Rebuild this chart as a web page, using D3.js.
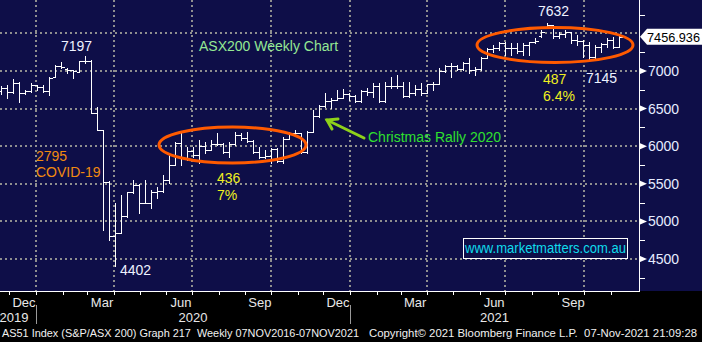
<!DOCTYPE html>
<html>
<head>
<meta charset="utf-8">
<script src="https://cdn.jsdelivr.net/npm/d3@7"></script>
<style>
  body { margin: 0; background: #000; }
  svg { display: block; }
  text { font-family: "Liberation Sans", Arial, sans-serif; }
  .footer { white-space: pre; }
</style>
</head>
<body>
<div id="chart"></div>
<script>
// weekly AS51 bars, week ending Friday, first week 15 Nov 2019
const firstWeek = new Date(2019, 10, 15);

const open = [6740,6770,6715,6846,6708,6740,6816,6790,6733,6925,7065,7030,7010,6990,7130,7139,6445,6217,5530,4800,
  4842,5070,5387,5487,5242,5245,5391,5405,5550,5755,6037,5847,5942,5880,6000,5950,6034,6030,5928,6027,
  6150,6111,6073,5925,5859,5873,5964,5800,6101,6176,6170,5927,6190,6405,6539,6601,6620,6642,6700,6665,
  6600,6740,6715,6800,6607,6806,6798,6794,6673,6710,6767,6708,6824,6828,6995,7063,7061,7025,7106,7014,
  7030,7179,7295,7312,7369,7308,7308,7272,7347,7390,7460,7567,7612,7460,7488,7522,7406,7403,7342,7180,
  7320,7362,7415,7323];
const high = [6800,6814,6889,6858,6750,6845,6820,6814,6924,7080,7124,7040,7013,7137,7197,7150,6517,6220,5540,5240,
  5351,5395,5550,5500,5550,5417,5462,5617,5900,6060,6193,5993,5990,6082,6060,6082,6171,6038,6060,6193,
  6171,6193,6082,5993,5949,5971,5971,6126,6193,6215,6180,6200,6481,6548,6703,6636,6747,6756,6703,6681,
  6747,6770,6836,6836,6858,6924,6947,6858,6860,6814,6836,6830,6858,7035,7080,7102,7080,7124,7168,7057,
  7190,7301,7346,7390,7380,7368,7368,7368,7390,7434,7545,7632,7612,7523,7545,7523,7479,7412,7390,7346,
  7368,7434,7450,7460];
const low = [6700,6636,6703,6592,6700,6725,6750,6720,6681,6920,7035,6969,6902,6982,7110,6440,6215,4885,4752,4402,
  4841,5060,5373,5107,5240,5173,5306,5395,5506,5750,5750,5816,5860,5772,5905,5949,6016,5905,5860,6020,
  6082,6060,5905,5838,5838,5772,5794,5772,6100,6149,5905,5905,6190,6393,6525,6503,6614,6636,6614,6592,
  6592,6681,6659,6592,6590,6769,6769,6659,6660,6681,6681,6703,6747,6828,6991,6924,7013,7013,6969,6947,
  7013,7168,7257,7279,7213,7213,7235,7213,7213,7368,7456,7567,7434,7434,7456,7368,7346,7190,7155,7145,
  7257,7323,7310,7315];
const close = [6770,6715,6846,6708,6740,6816,6790,6733,6905,7065,7050,7017,7000,7130,7139,6445,6217,5530,4800,4842,
  5070,5387,5487,5242,5245,5391,5405,5550,5755,6037,5847,5942,5880,6000,5950,6034,6030,5928,6027,6150,
  6111,6073,5925,5859,5873,5964,5800,6101,6176,6170,5927,6190,6405,6539,6601,6620,6642,6700,6665,6600,
  6740,6715,6800,6607,6806,6798,6794,6673,6710,6767,6708,6824,6828,6995,7063,7061,7025,7106,7014,7030,
  7179,7295,7312,7369,7308,7308,7272,7347,7390,7400,7522,7612,7460,7488,7522,7406,7403,7342,7180,7320,
  7362,7415,7323,7457];

const lastPrice = "7456.936";
const priceTicks = [4500, 5000, 5500, 6000, 6500, 7000, 7500];
const minorTicks = [4250, 4750, 5250, 5750, 6250, 6750, 7250, 7750];
const monthLabels = [
  {date: new Date(2019, 11, 1), label: "Dec"}, {date: new Date(2020, 2, 1), label: "Mar"},
  {date: new Date(2020, 5, 1), label: "Jun"}, {date: new Date(2020, 8, 1), label: "Sep"},
  {date: new Date(2020, 11, 1), label: "Dec"}, {date: new Date(2021, 2, 1), label: "Mar"},
  {date: new Date(2021, 5, 1), label: "Jun"}, {date: new Date(2021, 8, 1), label: "Sep"}
];
const yearLabels = ["2019", "2020", "2021"];
const footerLeft = "AS51 Index (S&P/ASX 200) Graph 217  Weekly 07NOV2016-07NOV2021";
const footerRight = "Copyright\u00a9 2021 Bloomberg Finance L.P.  07-Nov-2021 21:09:28";

const W = 702, H = 342;
const plotRight = 639, plotBottom = 291;
const bg = "#0e0e48";

const svg = d3.select("#chart").append("svg")
  .attr("width", W).attr("height", H);

svg.append("rect").attr("width", W).attr("height", H).attr("fill", "#000");
svg.append("rect").attr("width", W).attr("height", plotBottom).attr("fill", bg);

const x = d3.scaleTime()
  .domain([new Date(2020, 0, 1), new Date(2021, 0, 1)])
  .range([36, 350]);
const y = d3.scaleLinear()
  .domain([4500, 7500])
  .range([259, 33.4]);

const weeks = open.map((o, i) => ({
  date: d3.timeDay.offset(d3.timeWeek.offset(firstWeek, i), 6),
  o: o, h: high[i], l: low[i], c: close[i]
}));

// grid
const grid = svg.append("g").attr("stroke", "#8f8f8f").attr("stroke-width", 2)
  .attr("stroke-dasharray", "2,3");
const quarters = d3.timeMonth.every(3).range(new Date(2019, 11, 1), new Date(2021, 11, 1));
grid.selectAll(".vg").data(quarters).enter().append("line")
  .attr("x1", d => Math.round(x(d))).attr("x2", d => Math.round(x(d)))
  .attr("y1", 0).attr("y2", plotBottom);
grid.selectAll(".hg").data(priceTicks).enter().append("line")
  .attr("x1", 0).attr("x2", plotRight)
  .attr("y1", d => Math.round(y(d))).attr("y2", d => Math.round(y(d)));

// bars
const bars = svg.append("g").attr("stroke", "#fff").attr("stroke-width", 1)
  .attr("shape-rendering", "crispEdges");
const bx = d => Math.round(x(d.date)) + 0.5;
bars.selectAll(".hl").data(weeks).enter().append("line")
  .attr("x1", bx).attr("x2", bx)
  .attr("y1", d => Math.round(y(d.h))).attr("y2", d => Math.round(y(d.l)) + 1);
bars.selectAll(".op").data(weeks).enter().append("line")
  .attr("x1", d => bx(d) - 3).attr("x2", bx)
  .attr("y1", d => Math.round(y(d.o)) + 0.5).attr("y2", d => Math.round(y(d.o)) + 0.5);
bars.selectAll(".cl").data(weeks).enter().append("line")
  .attr("x1", bx).attr("x2", d => bx(d) + 3)
  .attr("y1", d => Math.round(y(d.c)) + 0.5).attr("y2", d => Math.round(y(d.c)) + 0.5);

// right axis
const ax = svg.append("g").attr("shape-rendering", "crispEdges");
ax.append("line").attr("x1", plotRight + 0.5).attr("x2", plotRight + 0.5)
  .attr("y1", 0).attr("y2", plotBottom).attr("stroke", "#fff");
ax.selectAll(".mt").data(minorTicks).enter().append("line")
  .attr("x1", plotRight).attr("x2", plotRight + 6)
  .attr("y1", d => Math.round(y(d)) + 0.5).attr("y2", d => Math.round(y(d)) + 0.5)
  .attr("stroke", "#fff");
svg.selectAll(".tri").data(priceTicks.filter(d => d < 7500)).enter().append("path")
  .attr("d", d => `M${plotRight},${y(d) - 3.5}L${plotRight + 8},${y(d)}L${plotRight},${y(d) + 3.5}Z`)
  .attr("fill", "#fff");
svg.selectAll(".pl").data(priceTicks.filter(d => d < 7500)).enter().append("text")
  .attr("x", 648).attr("y", d => y(d) + 5)
  .attr("fill", "#e6ecff").attr("font-size", 14)
  .text(d => d);

// last price tag
const ly = y(+lastPrice);
svg.append("path")
  .attr("d", `M640,${ly}L647,${ly - 8}L702,${ly - 8}L702,${ly + 8}L647,${ly + 8}Z`)
  .attr("fill", "#fff");
svg.append("text").attr("x", 647).attr("y", ly + 5)
  .attr("fill", "#000").attr("font-size", 13)
  .attr("textLength", 53).attr("lengthAdjust", "spacingAndGlyphs")
  .text(lastPrice);

// bottom axis
svg.append("line").attr("x1", 0).attr("x2", plotRight + 1)
  .attr("y1", plotBottom + 0.5).attr("y2", plotBottom + 0.5)
  .attr("stroke", "#fff").attr("shape-rendering", "crispEdges");
const months = d3.timeMonth.range(new Date(2019, 11, 1), new Date(2021, 11, 1));
svg.selectAll(".xt").data(months).enter().append("line")
  .attr("x1", d => Math.round(x(d)) + 0.5).attr("x2", d => Math.round(x(d)) + 0.5)
  .attr("y1", plotBottom).attr("y2", plotBottom + 4)
  .attr("stroke", "#fff").attr("shape-rendering", "crispEdges");
svg.selectAll(".ml").data(monthLabels).enter().append("text")
  .attr("x", d => x(d3.timeDay.offset(d.date, 17)))
  .attr("y", 307).attr("text-anchor", "middle")
  .attr("fill", "#e8e8e8").attr("font-size", 13)
  .text(d => d.label);
const yearEdges = [new Date(2020, 0, 1), new Date(2021, 0, 1)];
svg.selectAll(".ys").data(yearEdges).enter().append("line")
  .attr("x1", d => Math.round(x(d)) + 0.5).attr("x2", d => Math.round(x(d)) + 0.5)
  .attr("y1", 305).attr("y2", 324).attr("stroke", "#9a9a9a")
  .attr("shape-rendering", "crispEdges");
const yearX = [14, (x(yearEdges[0]) + x(yearEdges[1])) / 2, (x(yearEdges[1]) + plotRight) / 2];
svg.selectAll(".yl").data(yearLabels).enter().append("text")
  .attr("x", (d, i) => yearX[i]).attr("y", 322).attr("text-anchor", "middle")
  .attr("fill", "#e8e8e8").attr("font-size", 13)
  .text(d => d);

// footer in two pieces
svg.append("text").attr("class", "footer").attr("x", 2).attr("y", 337)
  .attr("fill", "#f0f0f0").attr("font-size", 11.5)
  .attr("textLength", 357).attr("lengthAdjust", "spacingAndGlyphs")
  .text(footerLeft);
svg.append("text").attr("class", "footer").attr("x", 369).attr("y", 337)
  .attr("fill", "#f0f0f0").attr("font-size", 11)
  .attr("textLength", 328).attr("lengthAdjust", "spacingAndGlyphs")
  .text(footerRight);

// annotations
svg.append("ellipse").attr("cx", 232.5).attr("cy", 145).attr("rx", 73.5).attr("ry", 18)
  .attr("fill", "none").attr("stroke", "#ff5a00").attr("stroke-width", 3);
svg.append("ellipse").attr("cx", 555).attr("cy", 45).attr("rx", 78).attr("ry", 17.5)
  .attr("fill", "none").attr("stroke", "#ff5a00").attr("stroke-width", 3);

const notes = [
  {t: "7197", x: 61, y: 51, c: "#eef2ff"},
  {t: "ASX200 Weekly Chart", x: 199, y: 51, c: "#94e894"},
  {t: "7632", x: 538, y: 16, c: "#eef2ff"},
  {t: "487", x: 543, y: 84, c: "#f0f020"},
  {t: "6.4%", x: 543, y: 101, c: "#f0f020"},
  {t: "7145", x: 586, y: 83, c: "#eef2ff"},
  {t: "2795", x: 36, y: 161, c: "#f28a10"},
  {t: "COVID-19", x: 36, y: 177, c: "#f28a10"},
  {t: "4402", x: 120, y: 275, c: "#eef2ff"},
  {t: "436", x: 217, y: 183, c: "#f0f020"},
  {t: "7%", x: 217, y: 200, c: "#f0f020"},
  {t: "Christmas Rally 2020", x: 368, y: 142, c: "#2ee02e"}
];
svg.selectAll(".note").data(notes).enter().append("text")
  .attr("x", d => d.x).attr("y", d => d.y).attr("fill", d => d.c)
  .attr("font-size", 14).text(d => d.t);

// arrow
const arrow = svg.append("g").attr("stroke", "#8fd11a").attr("stroke-width", 3)
  .attr("fill", "none").attr("stroke-linecap", "round");
arrow.append("line").attr("x1", 364).attr("y1", 138).attr("x2", 327).attr("y2", 120);
arrow.append("path").attr("d", "M338,119L327,120L332,129");

// site box
svg.append("rect").attr("x", 463.5).attr("y", 238.5).attr("width", 164).attr("height", 20)
  .attr("fill", bg).attr("stroke", "#fff").attr("stroke-width", 1);
svg.append("text").attr("x", 465).attr("y", 253).attr("fill", "#0fdcec")
  .attr("font-size", 14).attr("textLength", 161).attr("lengthAdjust", "spacingAndGlyphs")
  .text("www.marketmatters.com.au");
</script>
</body>
</html>
